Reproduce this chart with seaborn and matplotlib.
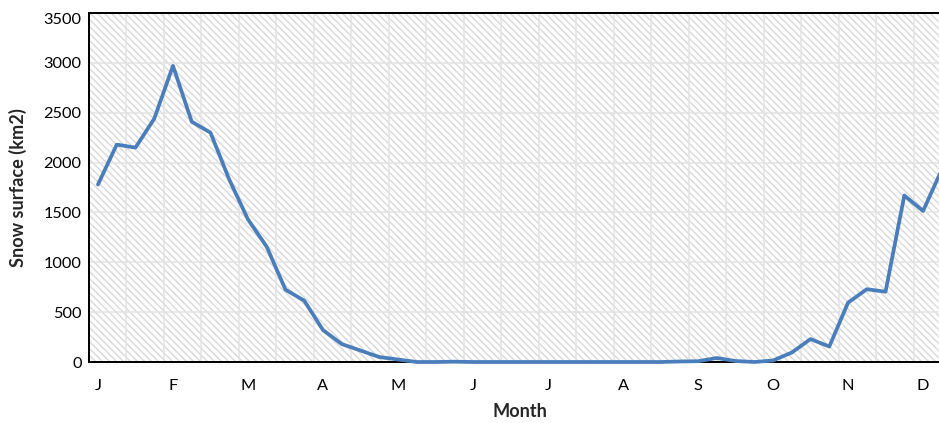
import numpy as np
import pandas as pd
import matplotlib
matplotlib.use("Agg")
import matplotlib.pyplot as plt
import matplotlib.transforms as mtransforms
from matplotlib.patches import Rectangle
import seaborn as sns

# weekly snow surface, 4 points per month
week = list(range(46))
snow = [1780, 2180, 2150, 2440, 2970, 2410, 2300, 1830,
        1430, 1155, 725, 615, 320, 180, 115, 50,
        25, 0, 0, 3, 0, 0, 0, 0,
        0, 0, 0, 0, 0, 0, 0, 5,
        8, 40, 10, 0, 15, 95, 230, 155,
        595, 730, 705, 1670, 1515, 1930]
months = ['J', 'F', 'M', 'A', 'M', 'J', 'J', 'A', 'S', 'O', 'N', 'D']

df = pd.DataFrame({'week': week, 'snow': snow})

sns.set_style("white")
plt.rcParams['font.family'] = ['Lato', 'DejaVu Sans']
plt.rcParams['hatch.linewidth'] = 1.2
DPI = 84

fig = plt.figure(figsize=(939 / DPI, 423 / DPI), dpi=DPI)
ax = fig.add_axes([88.6 / 939, 61 / 423, (939 - 88.6) / 939, 349 / 423])

# hatched plot area
ax.add_patch(Rectangle((0, 0), 1, 1, transform=ax.transAxes, facecolor='white',
                       edgecolor='#d9d9d9', hatch='\\\\\\\\', lw=0, zorder=0))

sns.lineplot(data=df, x='week', y='snow', ax=ax, color='#4a7ebb', lw=3.2,
             zorder=5, clip_on=False)

ax.set_yticks(np.arange(0, 3501, 500))
ax.set_xticks(np.arange(0, 48, 4))
ax.set_xticklabels(months)
ax.set_xticks(np.arange(-0.5, 48, 2), minor=True)
ax.set_xlim(-0.5, 44.85)
ax.set_ylim(0, 3500)
ax.set_axisbelow(True)
ax.grid(True, axis='y', color='#e3e3e3', lw=1.3)
ax.grid(True, axis='x', which='minor', color='#e3e3e3', lw=1.3)
ax.tick_params(axis='both', which='both', length=0, labelsize=14, colors='black')
ax.tick_params(axis='y', pad=6)
ax.tick_params(axis='x', pad=14.5)

# top label sits a little lower, as in the original
top = ax.get_yticklabels()[-1]
top.set_transform(top.get_transform() + mtransforms.ScaledTranslation(0, -6 / DPI, fig.dpi_scale_trans))

for side in ['left', 'bottom', 'top']:
    ax.spines[side].set_color('black')
    ax.spines[side].set_linewidth(1.7)
ax.spines['right'].set_visible(False)

ax.set_xlabel('Month', fontsize=15.5, fontweight='bold')
ax.set_ylabel('Snow surface (km2)', fontsize=15.5, fontweight='bold')
ax.xaxis.set_label_coords((520 - 88.6) / (939 - 88.6), -41 / 349)
ax.yaxis.set_label_coords(-62 / (939 - 88.6), 0.5)

fig.savefig('out.png', dpi=DPI)
